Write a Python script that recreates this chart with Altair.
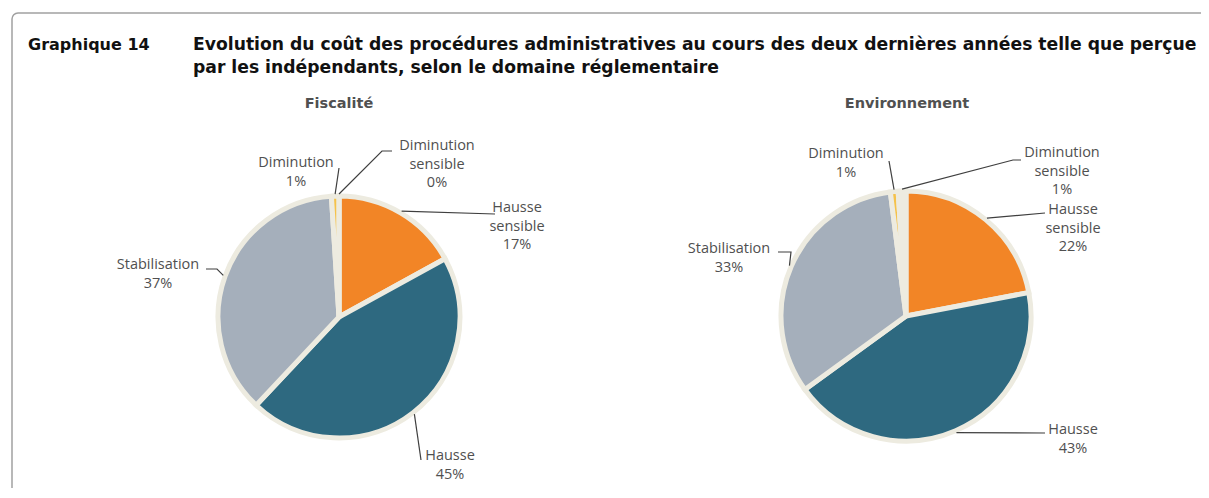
import math
import altair as alt
import pandas as pd

# ---------------- data ----------------
categories = ["Hausse sensible", "Hausse", "Stabilisation", "Diminution", "Diminution sensible"]
label_lines = [["Hausse", "sensible"], ["Hausse"], ["Stabilisation"], ["Diminution"], ["Diminution", "sensible"]]
fiscalite = [17, 45, 37, 1, 0]
environnement = [22, 43, 33, 1, 1]
panel_titles = ["Fiscalité", "Environnement"]
title_num = "Graphique 14"
title_lines = [
    "Evolution du coût des procédures administratives au cours des deux dernières années telle que perçue",
    "par les indépendants, selon le domaine réglementaire",
]

# ---------------- style / layout ----------------
colors = ["#F28526", "#2E6980", "#A5AFBB", "#F5C24A", "#EDEBE0"]
beige = "#EDEBE0"
label_color = "#505050"
frame_color = "#A0A0A0"
W, H = 1193, 480
OFF = 8  # page margin
centers = [(339, 317), (906, 316)]
radii = [121, 125]
title_pos = [(339, 104), (907, 104)]
# label layout per pie and category: (text x, first line y, leader end x, end y, elbow or None)
label_layout = [
    [
        (517, 208, 495, 214, None),
        (450, 456, 421, 460, None),
        (158, 265, 206, 269, (217, 269)),
        (296, 163, 339, 168, None),
        (437, 146, 392, 151, (382, 151)),
    ],
    [
        (1073, 210, 1045, 213, None),
        (1073, 430, 1045, 433, None),
        (729, 249, 778, 252, (791, 252)),
        (846, 154, 889, 161, None),
        (1062, 153, 1021, 160, (1013, 160)),
    ],
]
LH = 18.7

xs = alt.Scale(domain=[OFF, OFF + W], range=[0, W], nice=False, zero=False)
ys = alt.Scale(domain=[OFF, OFF + H], range=[0, H], nice=False, zero=False)

layers = []
one = pd.DataFrame({"a": [0]})

# frame (top and left edges, rounded top-left corner)
FX, FY, CR = 12, 13, 6
layers.append(
    alt.Chart(one).mark_rule(color=frame_color, strokeWidth=1.5).encode(
        x=alt.value(FX + CR - OFF), x2=alt.value(W + 10), y=alt.value(FY - OFF))
)
layers.append(
    alt.Chart(one).mark_rule(color=frame_color, strokeWidth=1.5).encode(
        x=alt.value(FX - OFF), y=alt.value(FY + CR - OFF), y2=alt.value(H + 10))
)
layers.append(
    alt.Chart(one).mark_arc(radius=CR, radius2=CR, theta=4.712389, theta2=6.283185,
                            fill=None, stroke=frame_color, strokeWidth=1.5).encode(
        x=alt.value(FX + CR - OFF), y=alt.value(FY + CR - OFF))
)

# titles
tdf = pd.DataFrame({"t": [title_num], "x": [28], "y": [45]})
layers.append(
    alt.Chart(tdf).mark_text(align="left", baseline="middle", font="DejaVu Sans", fontWeight="bold",
                             fontSize=16, color="#111111").encode(
        x=alt.X("x:Q", scale=xs, axis=None), y=alt.Y("y:Q", scale=ys, axis=None), text="t:N")
)
tldf = pd.DataFrame({"t": title_lines, "x": [193, 193], "y": [45, 68]})
layers.append(
    alt.Chart(tldf).mark_text(align="left", baseline="middle", font="DejaVu Sans", fontWeight="bold",
                              fontSize=17.2, color="#111111").encode(
        x=alt.X("x:Q", scale=xs, axis=None), y=alt.Y("y:Q", scale=ys, axis=None), text="t:N")
)
ptdf = pd.DataFrame({"t": panel_titles, "x": [p[0] for p in title_pos], "y": [p[1] for p in title_pos]})
layers.append(
    alt.Chart(ptdf).mark_text(align="center", baseline="middle", font="DejaVu Sans", fontWeight="bold",
                              fontSize=14.5, color=label_color).encode(
        x=alt.X("x:Q", scale=xs, axis=None), y=alt.Y("y:Q", scale=ys, axis=None), text="t:N")
)

color_scale = alt.Scale(domain=categories, range=colors)

text_rows = []
line_rows = []
for p, values in enumerate([fiscalite, environnement]):
    cx, cy = centers[p]
    r = radii[p]
    df = pd.DataFrame({"cat": categories, "v": values, "o": list(range(len(categories)))})
    layers.append(
        alt.Chart(df).mark_arc(radius=r, stroke=beige, strokeWidth=5).encode(
            theta=alt.Theta("v:Q", stack=True, scale=alt.Scale(domain=[0, 100])),
            color=alt.Color("cat:N", scale=color_scale, legend=None),
            order=alt.Order("o:Q"),
            x=alt.value(cx - OFF),
            y=alt.value(cy - OFF),
        )
    )
    cum = 0
    for i, cat in enumerate(categories):
        v = values[i]
        mid = (cum + v / 2) / 100 * 2 * math.pi
        cum += v
        sx = cx + (r + 2) * math.sin(mid)
        sy = cy - (r + 2) * math.cos(mid)
        tx, ty, ex, ey, elbow = label_layout[p][i]
        pts = [(sx, sy)]
        if elbow:
            pts.append(elbow)
        pts.append((ex, ey))
        for k, (px, py) in enumerate(pts):
            line_rows.append({"id": f"{p}-{i}", "k": k, "x": px, "y": py})
        lines = label_lines[i] + [f"{v}%"]
        for j, s in enumerate(lines):
            text_rows.append({"t": s, "x": tx, "y": ty + j * LH})

ldf = pd.DataFrame(line_rows)
layers.append(
    alt.Chart(ldf).mark_line(color="#3F3F3F", strokeWidth=1.2).encode(
        x=alt.X("x:Q", scale=xs, axis=None), y=alt.Y("y:Q", scale=ys, axis=None),
        detail="id:N", order="k:Q")
)
txdf = pd.DataFrame(text_rows)
layers.append(
    alt.Chart(txdf).mark_text(align="center", baseline="middle", font="Open Sans", fontSize=14.5,
                              color=label_color).encode(
        x=alt.X("x:Q", scale=xs, axis=None), y=alt.Y("y:Q", scale=ys, axis=None), text="t:N")
)

chart = alt.layer(*layers).properties(
    width=W, height=H, padding=0, autosize=alt.AutoSizeParams(type="none")
).configure_view(strokeWidth=0, stroke="transparent").resolve_scale(theta="shared")

chart.save("out.html", embed_options={"renderer": "svg", "actions": False})
